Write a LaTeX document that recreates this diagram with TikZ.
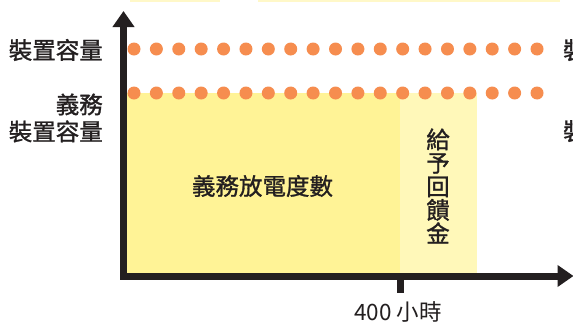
\documentclass[tikz,border=0pt]{standalone}
\usepackage{fontspec}
\newfontfamily\cjk{Noto Sans CJK TC}
\newfontfamily\cjkm[FakeBold=1.2]{Noto Sans CJK TC}
\usetikzlibrary{arrows.meta}
\definecolor{ink}{HTML}{231F20}
\definecolor{ymain}{HTML}{FFF396}
\definecolor{ylight}{HTML}{FFF8B9}
\definecolor{yfaint}{HTML}{FFF8C8}
\definecolor{dotc}{HTML}{F68D4F}
\tikzset{
  lbl/.style={font=\cjkm\fontsize{23.5}{27}\selectfont, text=ink, inner sep=0pt},
  axis/.style={draw=ink, line width=7pt, line join=miter},
  dotrow/.style={fill=dotc, draw=none},
}
\begin{document}
\begin{tikzpicture}[x=1pt,y=-1pt]
\clip (0,0) rectangle (573,322);
\fill[white] (0,0) rectangle (573,322);
% faint strips at the top
\fill[yfaint] (130,0) rectangle (220,1.5);
\fill[yfaint] (258,0) rectangle (560,1.5);
% areas
\fill[ymain] (124,93) rectangle (400,276);
\fill[ylight] (400,93) rectangle (477,276);
% dots
\foreach \i in {0,...,18} {
  \fill[dotrow] (134+\i*22.39,49) circle (6.5);
  \fill[dotrow] (134+\i*22.39,93) circle (6.5);
}
% axes
\coordinate (ytop) at (123.5,11);
\coordinate (corner) at (123.5,276);
\coordinate (xend) at (573.5,276);
\draw[axis, -{Triangle[width=21pt,length=16pt]}] (corner) -- (ytop);
\draw[axis, -{Triangle[width=21pt,length=16pt]}] (120,276) -- (xend);
\coordinate (tickA) at (400.5,276);
\coordinate (tickB) at (400.5,293);
\draw[ink, line width=7pt] (tickA) -- (tickB);
% labels
\node[lbl, anchor=east] (cap) at (103,50) {裝置容量};
\node[lbl, anchor=east, align=right] (obl) at (103,118) {義務\\裝置容量};
\node[lbl] (area) at (262.5,186) {義務放電度數};
\node[lbl, align=center, font=\cjkm\fontsize{23.5}{23.5}\selectfont] (fb) at (438,186) {給\\予\\回\\饋\\金};
\node[font=\cjk\fontsize{22.5}{24}\selectfont, text=ink, inner sep=0pt] (h400) at (398,312) {400 小時};
% next panel (partially visible)
\node[lbl, anchor=west] (capR) at (563,50) {裝置容量};
\node[lbl, anchor=west] (oblR) at (563,131) {裝置容量};
\end{tikzpicture}
\end{document}
